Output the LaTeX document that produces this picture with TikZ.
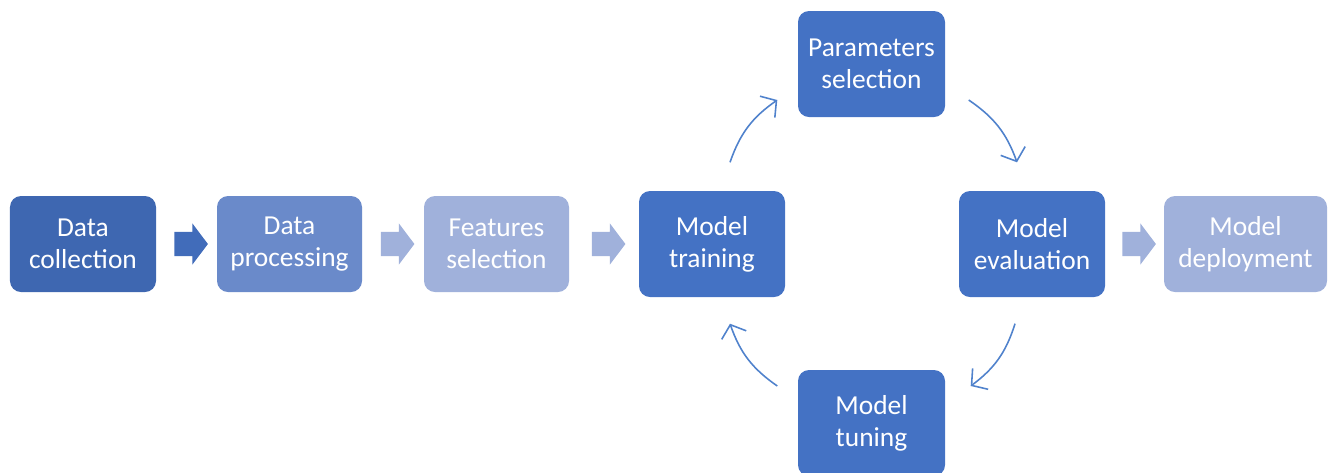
\documentclass[tikz,border=0pt]{standalone}
\usepackage{fontspec}
\setmainfont{Carlito}
\usetikzlibrary{shapes.arrows, arrows.meta, calc}

\definecolor{stepdark}{HTML}{3E67B1}
\definecolor{stepmid}{HTML}{6A8ACA}
\definecolor{steplight}{HTML}{A0B1DB}
\definecolor{stepmain}{HTML}{4472C4}
\definecolor{cyclecol}{HTML}{5082CC}

\tikzset{
	stepbox/.style = {rectangle, rounded corners = 0.11cm, text = white, align = center,
		inner sep = 0pt, minimum width = 1.46cm, minimum height = 0.96cm,
		font = \fontsize{7.8}{9.1}\selectfont},
	bigbox/.style = {stepbox, fill = stepmain, minimum height = 1.06cm},
	blockarrow/.style = {single arrow, inner sep = 0.115cm, minimum height = 0.31cm,
		single arrow head extend = 0.085cm, single arrow tip angle = 106},
	cyclearrow/.style = {cyclecol, line width = 0.45pt, bend left = 18,
		-{Straight Barb[length = 1.1mm, width = 2.6mm]}}
}

\begin{document}
\begin{tikzpicture}

	\useasboundingbox (0, 0) rectangle (13.36, 4.72);

	% Linear pipeline
	
	\node [stepbox, fill = stepdark] (collect) at (0.83, 2.28) {Data\\collection};
	\node [stepbox, fill = stepmid, minimum width = 1.45cm] (process) at (2.895, 2.28) {Data\\processing};
	\node [stepbox, fill = steplight, minimum width = 1.45cm] (features) at (4.965, 2.28) {Features\\selection};
	\node [bigbox] (train) at (7.12, 2.28) {Model\\training};
	\node [bigbox] (eval) at (10.32, 2.28) {Model\\evaluation};
	\node [stepbox, fill = steplight, minimum width = 1.63cm] (deploy) at (12.455, 2.28) {Model\\deployment};

	% Training loop
	
	\node [bigbox, minimum width = 1.47cm] (param) at (8.715, 4.08) {Parameters\\selection};
	\node [bigbox, minimum width = 1.47cm] (tune) at (8.715, 0.49) {Model\\tuning};

	% Block arrows between the steps
	
	\node [blockarrow, fill = stepmain!95!black] (a1) at ($(collect.east)!0.5!(process.west)$) {};
	\node [blockarrow, fill = steplight] (a2) at ($(process.east)!0.5!(features.west)$) {};
	\node [blockarrow, fill = steplight] (a3) at ($(features.east)!0.5!(train.west)$) {};
	\node [blockarrow, fill = steplight] (a4) at ($(eval.east)!0.5!(deploy.west)$) {};

	% Loop arrows
	
	\begin{scope}[cyclearrow]
	
		\draw ([xshift = 0.18cm, yshift = 0.28cm] train.north) to ([xshift = -0.2cm, yshift = -0.36cm] param.west);
		\draw ([xshift = 0.23cm, yshift = -0.36cm] param.east) to ([xshift = -0.15cm, yshift = 0.28cm] eval.north);
		\draw ([xshift = -0.17cm, yshift = -0.26cm] eval.south) to ([xshift = 0.25cm, yshift = 0.37cm] tune.east);
		\draw ([xshift = -0.2cm, yshift = 0.37cm] tune.west) to ([xshift = 0.18cm, yshift = -0.26cm] train.south);
	
	\end{scope}

\end{tikzpicture}
\end{document}
